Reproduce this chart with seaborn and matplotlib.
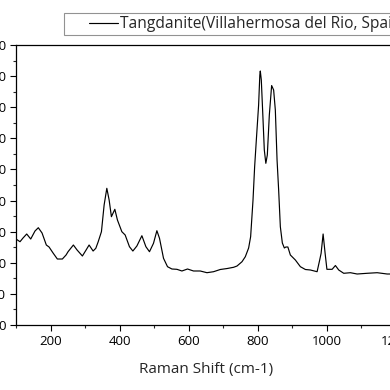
import numpy as np
import pandas as pd
import matplotlib
matplotlib.use("Agg")
import matplotlib.pyplot as plt
from matplotlib.ticker import MultipleLocator
from matplotlib.legend_handler import HandlerLine2D
import seaborn as sns

raman_shift = [100, 111.6, 120.3, 131, 142.6, 155, 164.6, 175.4, 187.8, 195.7, 207.3, 219.7, 234.2,
               244.9, 250.7, 266.1, 276.8, 292.2, 302.9, 311.6, 323.2, 331, 337.7, 347.3, 355.1,
               362.9, 369.6, 376.2, 386.1, 393.6, 406.4, 416, 428.4, 438.3, 449.9, 464.4, 476,
               486.4, 498, 507.8, 515.4, 527, 538.6, 551.3, 565.8, 580.3, 596.5, 613.9, 633.3,
               652.8, 671.9, 691.3, 711.6, 729.9, 739.8, 754.2, 763.8, 773.4, 779.2, 786.1,
               790.8, 795.7, 802.3, 805.8, 807.2, 810.1, 814.5, 818.8, 823.2, 827.5, 833.3, 840,
               845.8, 850.7, 855.7, 860.3, 865.2, 871, 876.8, 881.2, 887, 894.2, 908.7, 923.2,
               937.7, 952.2, 971.6, 979.1, 983.2, 989, 994.8, 1000, 1015.1, 1024.6, 1034.2,
               1048.7, 1068.1, 1087.5, 1116.5, 1145.5, 1174.5, 1190]
intensity = [2764, 2677, 2796, 2925, 2764, 3021, 3127, 2957, 2571, 2507, 2314, 2121, 2121,
             2250, 2356, 2571, 2411, 2218, 2411, 2571, 2378, 2465, 2668, 2999, 3857,
             4394, 4018, 3481, 3719, 3375, 2999, 2893, 2517, 2378, 2539, 2870, 2517,
             2356, 2626, 3031, 2787, 2144, 1874, 1800, 1790, 1736, 1800, 1736, 1736,
             1681, 1713, 1784, 1816, 1855, 1896, 2034, 2195, 2475, 2838, 4018,
             5088, 5946, 7071, 8035, 8164, 7875, 6749, 5625, 5197, 5464, 6749, 7697,
             7553, 6910, 5303, 4339, 3159, 2636, 2475, 2507, 2507, 2250, 2089, 1874,
             1784, 1768, 1713, 2089, 2304, 2925, 2304, 1790, 1790, 1912, 1768,
             1662, 1681, 1639, 1662, 1681, 1639, 1639]
series_label = "Tangdanite(Villahermosa del Rio, Spain)"
x_label = "Raman Shift (cm-1)"

df = pd.DataFrame({"x": raman_shift, "y": intensity})

sns.set_style("ticks")
plt.rcParams["font.family"] = ["Open Sans", "DejaVu Sans"]


class PaddedLineHandler(HandlerLine2D):
    """Draw the legend line only on the right part of the handle box."""
    def get_xdata(self, legend, xdescent, ydescent, width, height, fontsize):
        xd = np.array([-xdescent + 0.44 * width, -xdescent + width])
        return xd, xd


fig = plt.figure(figsize=(3.9, 3.9), dpi=100)
ax = fig.add_axes([16/390, 1-325/390, (396-16)/390, 280/390])
sns.lineplot(data=df, x="x", y="y", ax=ax, color="black", linewidth=0.85, label=series_label)

ax.set_xlim(100, 1200)
ax.set_ylim(0, 9000)
ax.xaxis.set_major_locator(MultipleLocator(200))
ax.xaxis.set_minor_locator(MultipleLocator(100))
ax.yaxis.set_major_locator(MultipleLocator(1000))
ax.yaxis.set_minor_locator(MultipleLocator(500))
ax.tick_params(which="major", direction="out", length=4, width=0.8, labelsize=9.5, colors="black", pad=3)
ax.tick_params(which="minor", direction="out", length=2.2, width=0.8)
for s in ax.spines.values():
    s.set_visible(True)
    s.set_linewidth(0.9)
    s.set_color("black")
ax.set_xlabel(x_label, fontsize=11, labelpad=10)
ax.set_ylabel("")

handles, labels = ax.get_legend_handles_labels()
leg = ax.legend(handles, labels, loc="upper left", bbox_to_anchor=(64/390, 1-13/390),
                bbox_transform=fig.transFigure,
                frameon=True, fancybox=False, fontsize=11.2, handlelength=3.25, handletextpad=0.12,
                borderpad=0.2, borderaxespad=0,
                handler_map={handles[0]: PaddedLineHandler()})
leg.get_frame().set_edgecolor("#777777")
leg.get_frame().set_linewidth(0.8)

fig.savefig("out.png", dpi=100)
